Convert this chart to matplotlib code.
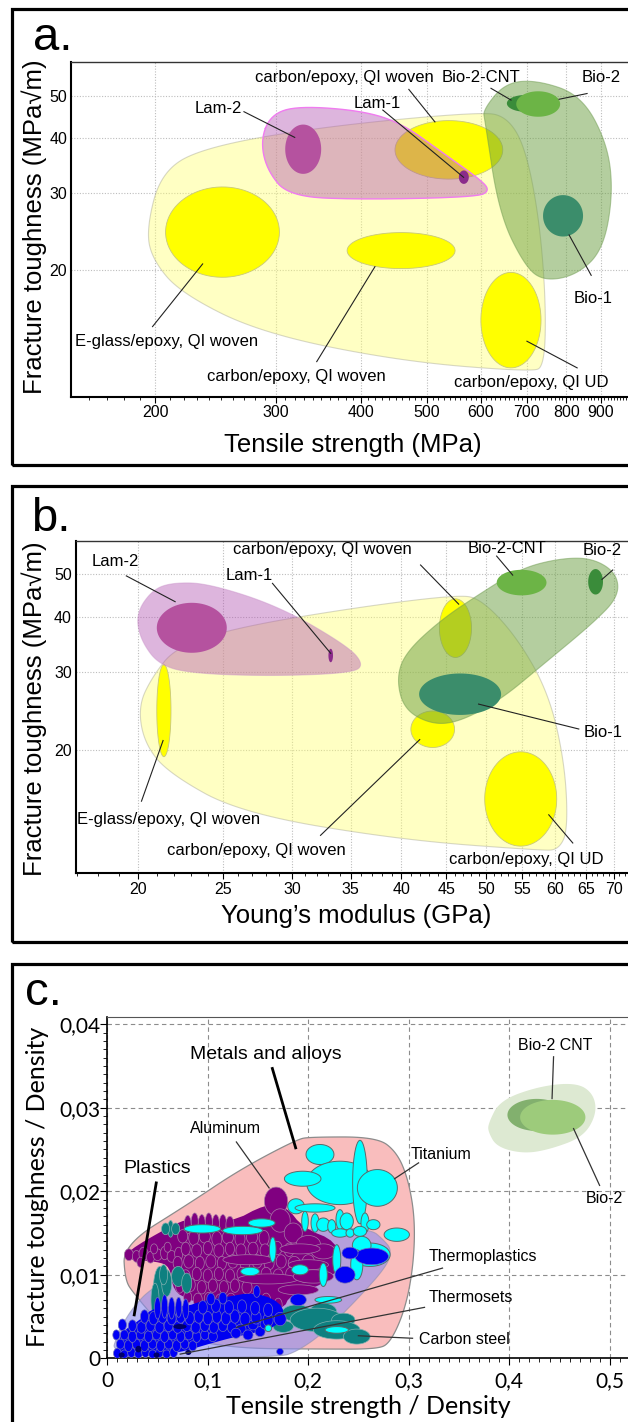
import numpy as np
import matplotlib
matplotlib.use("Agg")
from matplotlib import pyplot as plt
from matplotlib.patches import Rectangle
from matplotlib.ticker import FixedLocator, FixedFormatter, NullLocator, NullFormatter

W, H = 628, 1422
SANS = ['Liberation Sans', 'DejaVu Sans']
NARROW = ['Liberation Sans Narrow', 'Liberation Sans', 'DejaVu Sans']
CALIBRI = ['Lato', 'DejaVu Sans']
plt.rcParams['font.family'] = SANS

### DATA ###

# panel a: tensile strength (MPa) vs fracture toughness (MPa sqrt m)
# ellipses: name, strength lo, hi, toughness lo, hi
A_ELLIPSES = [
    ("E-glass/epoxy, QI woven", 207, 304, 19.3, 31.0),
    ("carbon/epoxy, QI woven 1", 449, 646, 32.3, 43.9),
    ("carbon/epoxy, QI woven 2", 382, 550, 20.2, 24.4),
    ("carbon/epoxy, QI UD", 600, 735, 12.0, 19.8),
]
A_TOP_ELLIPSES = [
    ("Lam-2", 310, 350, 33.2, 43.0),
    ("Lam-1", 557, 576, 31.5, 33.8),
    ("Bio-2-CNT", 655, 740, 46.0, 50.2),
    ("Bio-2", 676, 784, 44.8, 51.2),
    ("Bio-1", 740, 847, 23.9, 29.7),
]
A_YELLOW_ENV = [(194, 24.75), (203.5, 33.3), (233, 38.0), (349.5, 42.5), (600, 46.0),
                (655, 44.8), (696.5, 38.3), (730, 26.5), (747, 17.15), (744, 12.1),
                (710.8, 11.75), (458, 12.42), (285.4, 14.41), (217.8, 17.77), (198.1, 21.15)]
A_PURPLE_ENV = [(285.4, 39.65), (295.2, 45.2), (322.3, 47.4), (400, 46.3), (458, 43.4),
                (524.4, 37.3), (600.2, 32.15), (618.3, 30.4), (592.2, 29.4), (400, 29.0),
                (313.7, 29.5), (291.3, 33.9)]
A_GREEN_ENV = [(604.3, 46.4), (650.9, 53.5), (725.3, 54.3), (841.4, 50.2), (919.2, 39.0),
               (937.6, 30.0), (906.6, 22.3), (830.3, 19.55), (744, 18.9), (696.5, 20.4),
               (637.8, 27.0), (608.2, 43.9)]
A_XTICKS = [200, 300, 400, 500, 600, 700, 800, 900]
A_YTICKS = [20, 30, 40, 50]
# text, text position, leader start, leader end
A_LABELS = [
    ("carbon/epoxy, QI woven", (378.5, 54.9), (470.5, 51.7), (513.8, 43.6)),
    ("Lam-1", (422.3, 48.0), (430.9, 46.4), (566, 32.6)),
    ("Lam-2", (247, 46.8), (269.7, 46.0), (320.1, 40.2)),
    ("Bio-2-CNT", (600.2, 54.9), (620.8, 52.0), (664.2, 48.9)),
    ("Bio-2", (900.4, 54.9), (858.6, 50.6), (781.2, 49.1)),
    ("Bio-1", (876.3, 17.24), (870.6, 19.5), (808, 24.1)),
    ("E-glass/epoxy, QI woven", (207.7, 13.75), (198.1, 14.9), (234.6, 20.7)),
    ("carbon/epoxy, QI woven", (322.3, 11.48), (344.8, 12.4), (419.6, 20.4)),
    ("carbon/epoxy, QI UD", (710.8, 11.09), (830.3, 12.0), (700.9, 13.8)),
]

# panel b: Young's modulus (GPa) vs fracture toughness
B_ELLIPSES = [
    ("E-glass/epoxy, QI woven", 21.0, 21.8, 19.3, 31.2),
    ("carbon/epoxy, QI woven 1", 44.2, 48.1, 32.4, 44.0),
    ("carbon/epoxy, QI woven 2", 41.0, 46.0, 20.25, 24.5),
    ("carbon/epoxy, QI UD", 49.8, 60.2, 12.1, 19.8),
]
B_TOP_ELLIPSES = [
    ("Lam-2", 21.0, 25.25, 33.2, 43.1),
    ("Lam-1", 33.0, 33.4, 31.6, 33.9),
    ("Bio-2-CNT", 51.4, 58.6, 44.8, 51.2),
    ("Bio-2", 65.4, 68.0, 45.0, 51.4),
    ("Bio-1", 41.9, 52.0, 24.0, 29.8),
]
B_PURPLE_ENV = [(19.89, 40.8), (20.75, 46.1), (21.87, 47.9), (24.05, 47.7), (29.08, 42.2),
                (34.79, 34.3), (36.22, 31.2), (35.15, 29.9), (29.08, 29.4), (23.55, 29.7),
                (21.19, 30.9), (20.11, 35.5)]
B_YELLOW_ENV = [(20.0, 25.1), (20.75, 29.3), (22.11, 34.3), (26.17, 38.05), (35.91, 42.2),
                (46.25, 44.9), (49.27, 44.1), (54.17, 36.1), (58.95, 26.9), (61.49, 18.66),
                (62.01, 13.18), (60.51, 11.87), (57.71, 11.83), (39.9, 12.5), (26.17, 14.38),
                (21.65, 17.71), (20.32, 20.71)]
B_GREEN_ENV = [(39.48, 28.8), (40.33, 33.1), (44.35, 39.4), (49.27, 45.3), (54.75, 51.6),
               (60.85, 54.4), (66.19, 54.4), (70.5, 50.3), (70.88, 44.5), (66.19, 38.7),
               (57.71, 30.9), (51.95, 26.0), (46.74, 23.2), (43.42, 22.8), (40.33, 24.6)]
B_XTICKS = [20, 25, 30, 35, 40, 45, 50, 55, 60, 65, 70]
B_YTICKS = [20, 30, 40, 50]
B_LABELS = [
    ("Lam-2", (18.82, 53.6), (19.38, 49.6), (22.04, 43.35)),
    ("Lam-1", (26.82, 49.6), (28.48, 47.7), (33.2, 33.1)),
    ("carbon/epoxy, QI woven", (32.48, 56.8), (42.06, 52.5), (46.5, 42.8)),
    ("Bio-2-CNT", (52.87, 57.3), (51.39, 55.0), (53.61, 49.8)),
    ("Bio-2", (67.82, 56.5), (69.77, 51.15), (67.82, 48.7)),
    ("Bio-1", (67.97, 21.9), (63.8, 22.3), (49.0, 25.4)),
    ("E-glass/epoxy, QI woven", (21.65, 13.9), (20.17, 15.3), (21.35, 21.0)),
    ("carbon/epoxy, QI woven", (27.3, 11.8), (32.32, 12.8), (41.97, 21.1)),
    ("carbon/epoxy, QI UD", (55.62, 11.27), (62.8, 12.3), (58.95, 14.25)),
]

# panel c: specific strength vs specific toughness, (x, y, half range x, half range y)
C_METALS_ENV = [(0.0159, 0.0136), (0.0823, 0.0186), (0.132, 0.0226), (0.1885, 0.0262),
                (0.2017, 0.0265), (0.268, 0.0265), (0.288, 0.0247), (0.2995, 0.0214),
                (0.3062, 0.0166), (0.3045, 0.0110), (0.2962, 0.0058), (0.2813, 0.0018),
                (0.268, 0.0011), (0.2149, 0.0011), (0.12, 0.0012), (0.06, 0.003),
                (0.026, 0.0078), (0.0176, 0.0094)]
C_PLASTICS_ENV = [(0.003, 0.0001), (0.011, 0.0032), (0.0259, 0.0062), (0.0458, 0.0086),
                  (0.1, 0.0118), (0.2, 0.0158), (0.262, 0.0155), (0.2746, 0.0142),
                  (0.283, 0.0130), (0.278, 0.0110), (0.2482, 0.0070), (0.2149, 0.0030),
                  (0.1885, 0.0008), (0.17, 0.0001)]
C_BIO_ENV = [(0.379, 0.0281), (0.3907, 0.0309), (0.4305, 0.0326), (0.467, 0.0330),
             (0.4836, 0.0317), (0.487, 0.0293), (0.4737, 0.0265), (0.44, 0.0250),
             (0.414, 0.0245), (0.3875, 0.0253), (0.379, 0.0271)]
C_PURPLE_HULL = [(0.0193, 0.0128), (0.0624, 0.0158), (0.0823, 0.0168), (0.1221, 0.0162),
                 (0.158, 0.0185), (0.178, 0.0182), (0.195, 0.0156), (0.2283, 0.0140),
                 (0.2320, 0.0110), (0.2149, 0.0088), (0.1818, 0.0076), (0.1751, 0.0058),
                 (0.142, 0.0062), (0.1089, 0.0058), (0.0823, 0.0070), (0.0657, 0.0080),
                 (0.0624, 0.0110), (0.0492, 0.0116), (0.0193, 0.0118)]
C_BLUE_HULL = [(0.008, 0.0002), (0.0126, 0.0030), (0.0325, 0.0046), (0.0475, 0.0062),
               (0.079, 0.0062), (0.0922, 0.0068), (0.1121, 0.0072), (0.1487, 0.0080),
               (0.1785, 0.0062), (0.1686, 0.0036), (0.1353, 0.0028), (0.1089, 0.0020),
               (0.07, 0.0006), (0.03, 0.0002)]
C_TEAL = [
    (0.063, 0.0155, 0.0085, 0.0004), (0.063, 0.0155, 0.0028, 0.0010),
    (0.058, 0.0155, 0.0040, 0.0007), (0.068, 0.0155, 0.0040, 0.0007),
    (0.0524, 0.0082, 0.0066, 0.0028), (0.0475, 0.0070, 0.0040, 0.0020),
    (0.0591, 0.0090, 0.0050, 0.0016), (0.0706, 0.0098, 0.0066, 0.0012),
    (0.0790, 0.0090, 0.0050, 0.0012), (0.0560, 0.0100, 0.0040, 0.0012),
    (0.1885, 0.0054, 0.0150, 0.0010), (0.2149, 0.0056, 0.0133, 0.0010),
    (0.2084, 0.0046, 0.0265, 0.0014), (0.2348, 0.0046, 0.0116, 0.0008),
    (0.1751, 0.0038, 0.0100, 0.0007), (0.2283, 0.0034, 0.0232, 0.0011),
    (0.2482, 0.0026, 0.0133, 0.0009),
]
C_PURPLE = [
    (0.0215, 0.0124, 0.0045, 0.0007), (0.0290, 0.0122, 0.0040, 0.0007), (0.0360, 0.0125, 0.0045, 0.0008),
    (0.0430, 0.0121, 0.0040, 0.0007), (0.0500, 0.0124, 0.0045, 0.0007), (0.0570, 0.0126, 0.0040, 0.0008),
    (0.0640, 0.0122, 0.0045, 0.0007), (0.0710, 0.0125, 0.0040, 0.0008), (0.0330, 0.0115, 0.0035, 0.0006),
    (0.0465, 0.0131, 0.0035, 0.0006), (0.0600, 0.0133, 0.0035, 0.0006),
    (0.0800, 0.0160, 0.0035, 0.0011), (0.0870, 0.0163, 0.0035, 0.0011), (0.0940, 0.0161, 0.0035, 0.0011),
    (0.1010, 0.0163, 0.0035, 0.0011), (0.1080, 0.0161, 0.0035, 0.0011), (0.1150, 0.0162, 0.0035, 0.0010),
    (0.1220, 0.0160, 0.0040, 0.0010),
    (0.0750, 0.0146, 0.0050, 0.0008), (0.0860, 0.0144, 0.0050, 0.0009), (0.0970, 0.0146, 0.0055, 0.0008),
    (0.1090, 0.0143, 0.0050, 0.0009), (0.1200, 0.0145, 0.0055, 0.0008), (0.1320, 0.0143, 0.0050, 0.0009),
    (0.1440, 0.0145, 0.0055, 0.0008), (0.1560, 0.0144, 0.0050, 0.0009),
    (0.1679, 0.0188, 0.0116, 0.0017), (0.1720, 0.0165, 0.0100, 0.0014), (0.1850, 0.0150, 0.0090, 0.0012),
    (0.2000, 0.0137, 0.0120, 0.0010), (0.2150, 0.0128, 0.0120, 0.0009),
    (0.0780, 0.0131, 0.0045, 0.0008), (0.0890, 0.0129, 0.0050, 0.0008), (0.1000, 0.0132, 0.0045, 0.0008),
    (0.1110, 0.0129, 0.0050, 0.0008), (0.1220, 0.0131, 0.0045, 0.0008), (0.1330, 0.0129, 0.0050, 0.0008),
    (0.1450, 0.0131, 0.0050, 0.0008), (0.1570, 0.0129, 0.0050, 0.0008), (0.1690, 0.0132, 0.0050, 0.0008),
    (0.1810, 0.0130, 0.0050, 0.0008),
    (0.0700, 0.0114, 0.0045, 0.0008), (0.0810, 0.0116, 0.0050, 0.0008), (0.0920, 0.0114, 0.0045, 0.0008),
    (0.1030, 0.0116, 0.0050, 0.0008), (0.1140, 0.0114, 0.0045, 0.0008), (0.1250, 0.0116, 0.0050, 0.0008),
    (0.1370, 0.0114, 0.0050, 0.0008), (0.1490, 0.0116, 0.0050, 0.0008), (0.1610, 0.0114, 0.0050, 0.0008),
    (0.1730, 0.0116, 0.0050, 0.0008), (0.1860, 0.0114, 0.0060, 0.0008), (0.2000, 0.0116, 0.0060, 0.0008),
    (0.0680, 0.0100, 0.0040, 0.0008), (0.0780, 0.0098, 0.0045, 0.0008), (0.0890, 0.0101, 0.0045, 0.0008),
    (0.1000, 0.0099, 0.0045, 0.0008), (0.1110, 0.0101, 0.0045, 0.0008), (0.1220, 0.0099, 0.0045, 0.0008),
    (0.1340, 0.0101, 0.0050, 0.0008), (0.1460, 0.0099, 0.0050, 0.0008), (0.1580, 0.0101, 0.0050, 0.0008),
    (0.1700, 0.0099, 0.0050, 0.0008), (0.1830, 0.0101, 0.0055, 0.0008), (0.1960, 0.0099, 0.0055, 0.0008),
    (0.0720, 0.0086, 0.0040, 0.0008), (0.0830, 0.0088, 0.0045, 0.0008), (0.0940, 0.0085, 0.0045, 0.0008),
    (0.1050, 0.0087, 0.0045, 0.0008), (0.1160, 0.0085, 0.0045, 0.0008), (0.1270, 0.0087, 0.0045, 0.0008),
    (0.1390, 0.0085, 0.0050, 0.0008), (0.1600, 0.0095, 0.0300, 0.0006), (0.1900, 0.0082, 0.0200, 0.0006),
    (0.0800, 0.0073, 0.0040, 0.0007), (0.0900, 0.0070, 0.0045, 0.0008), (0.1010, 0.0072, 0.0045, 0.0007),
    (0.1120, 0.0069, 0.0045, 0.0008), (0.1230, 0.0071, 0.0045, 0.0007), (0.1350, 0.0068, 0.0045, 0.0008),
    (0.1460, 0.0071, 0.0045, 0.0007), (0.1580, 0.0070, 0.0045, 0.0008), (0.1700, 0.0064, 0.0040, 0.0008),
    (0.1400, 0.0118, 0.0250, 0.0006), (0.2000, 0.0112, 0.0200, 0.0006),
    (0.2050, 0.0098, 0.0200, 0.0008), (0.1917, 0.0131, 0.0200, 0.0006),
]
C_BLUE = [
    (0.010, 0.0006, 0.0038, 0.0006), (0.017, 0.0005, 0.0038, 0.0005), (0.024, 0.0007, 0.0038, 0.0006),
    (0.031, 0.0005, 0.0038, 0.0005), (0.038, 0.0007, 0.0038, 0.0006), (0.045, 0.0005, 0.0038, 0.0005),
    (0.052, 0.0007, 0.0038, 0.0006), (0.059, 0.0005, 0.0038, 0.0005), (0.066, 0.0007, 0.0038, 0.0006),
    (0.013, 0.0017, 0.0040, 0.0006), (0.021, 0.0015, 0.0040, 0.0007), (0.029, 0.0017, 0.0040, 0.0006),
    (0.037, 0.0015, 0.0040, 0.0007), (0.045, 0.0017, 0.0040, 0.0006), (0.053, 0.0015, 0.0040, 0.0007),
    (0.061, 0.0017, 0.0040, 0.0006), (0.069, 0.0015, 0.0040, 0.0007), (0.077, 0.0017, 0.0040, 0.0006),
    (0.085, 0.0015, 0.0040, 0.0006),
    (0.009, 0.0028, 0.0035, 0.0006), (0.015, 0.0040, 0.0040, 0.0007),
    (0.017, 0.0028, 0.0040, 0.0006), (0.025, 0.0026, 0.0040, 0.0007), (0.033, 0.0028, 0.0040, 0.0006),
    (0.041, 0.0026, 0.0040, 0.0007), (0.049, 0.0028, 0.0040, 0.0006), (0.057, 0.0026, 0.0040, 0.0007),
    (0.065, 0.0028, 0.0040, 0.0006), (0.073, 0.0026, 0.0040, 0.0007), (0.081, 0.0028, 0.0040, 0.0006),
    (0.089, 0.0026, 0.0040, 0.0007), (0.097, 0.0028, 0.0040, 0.0006), (0.105, 0.0026, 0.0045, 0.0006),
    (0.025, 0.0039, 0.0040, 0.0007), (0.034, 0.0037, 0.0045, 0.0007), (0.043, 0.0039, 0.0045, 0.0007),
    (0.052, 0.0037, 0.0045, 0.0007), (0.061, 0.0039, 0.0045, 0.0007), (0.070, 0.0037, 0.0045, 0.0007),
    (0.079, 0.0039, 0.0045, 0.0007), (0.088, 0.0037, 0.0045, 0.0007), (0.097, 0.0039, 0.0045, 0.0007),
    (0.106, 0.0037, 0.0045, 0.0007), (0.115, 0.0039, 0.0045, 0.0007), (0.124, 0.0037, 0.0045, 0.0007),
    (0.133, 0.0035, 0.0050, 0.0006),
    (0.128, 0.0030, 0.0050, 0.0006), (0.140, 0.0028, 0.0050, 0.0006), (0.152, 0.0032, 0.0050, 0.0006),
    (0.145, 0.0040, 0.0050, 0.0006), (0.157, 0.0041, 0.0050, 0.0006),
    (0.037, 0.0050, 0.0040, 0.0008), (0.046, 0.0048, 0.0045, 0.0008), (0.055, 0.0050, 0.0045, 0.0008),
    (0.064, 0.0048, 0.0045, 0.0008), (0.073, 0.0050, 0.0045, 0.0008), (0.082, 0.0048, 0.0045, 0.0008),
    (0.091, 0.0050, 0.0045, 0.0008), (0.100, 0.0048, 0.0045, 0.0008), (0.109, 0.0050, 0.0045, 0.0008),
    (0.118, 0.0048, 0.0045, 0.0008), (0.127, 0.0050, 0.0045, 0.0008), (0.137, 0.0047, 0.0050, 0.0008),
    (0.148, 0.0049, 0.0050, 0.0008), (0.160, 0.0046, 0.0050, 0.0008),
    (0.050, 0.0060, 0.0030, 0.0013), (0.057, 0.0062, 0.0030, 0.0014), (0.064, 0.0060, 0.0030, 0.0013),
    (0.071, 0.0061, 0.0030, 0.0012), (0.078, 0.0059, 0.0030, 0.0012), (0.095, 0.0061, 0.0045, 0.0008),
    (0.108, 0.0063, 0.0045, 0.0008), (0.121, 0.0061, 0.0045, 0.0008), (0.134, 0.0062, 0.0045, 0.0008),
    (0.147, 0.0060, 0.0045, 0.0008), (0.160, 0.0058, 0.0045, 0.0008),
    (0.103, 0.0071, 0.0040, 0.0007), (0.115, 0.0072, 0.0040, 0.0007), (0.1487, 0.0080, 0.0033, 0.0007),
    (0.172, 0.0047, 0.0060, 0.0008), (0.1718, 0.0008, 0.0033, 0.0004), (0.190, 0.0070, 0.0080, 0.0007),
]
C_CYAN = [
    (0.2116, 0.0244, 0.0139, 0.0012), (0.2315, 0.0210, 0.0332, 0.0026), (0.1944, 0.0215, 0.0182, 0.0009),
    (0.2514, 0.0211, 0.0073, 0.0050), (0.2687, 0.0204, 0.0199, 0.0022), (0.1878, 0.0182, 0.0083, 0.0009),
    (0.2067, 0.0180, 0.0199, 0.0005), (0.1967, 0.0164, 0.0033, 0.0012), (0.2067, 0.0162, 0.0040, 0.0011),
    (0.2149, 0.0160, 0.0066, 0.0008), (0.2233, 0.0158, 0.0040, 0.0008), (0.2315, 0.0166, 0.0040, 0.0012),
    (0.2382, 0.0164, 0.0066, 0.0010), (0.2564, 0.0162, 0.0040, 0.0012), (0.2647, 0.0160, 0.0066, 0.0006),
    (0.2315, 0.0150, 0.0083, 0.0005), (0.2415, 0.0150, 0.0040, 0.0005), (0.2514, 0.0152, 0.0066, 0.0006),
    (0.2880, 0.0148, 0.0126, 0.0008), (0.2614, 0.0124, 0.0200, 0.0014), (0.2531, 0.0135, 0.0093, 0.0011),
    (0.2482, 0.0112, 0.0060, 0.0018), (0.2283, 0.0118, 0.0040, 0.0018), (0.2149, 0.0100, 0.0040, 0.0014),
    (0.1917, 0.0106, 0.0083, 0.0006), (0.2199, 0.0070, 0.0133, 0.0004), (0.0945, 0.0155, 0.0182, 0.0005),
    (0.1347, 0.0153, 0.0199, 0.0005), (0.1536, 0.0162, 0.0133, 0.0005), (0.1646, 0.0130, 0.0033, 0.0015),
    (0.1420, 0.0104, 0.0093, 0.0005), (0.1602, 0.0036, 0.0033, 0.0004), (0.2283, 0.0034, 0.0116, 0.0004),
]
C_BLUE_FRONT = [(0.2631, 0.0122, 0.0166, 0.0010), (0.2365, 0.0100, 0.0100, 0.0010),
                (0.2415, 0.0126, 0.0080, 0.0007)]
C_NAVY = [(0.0723, 0.0038, 0.0066, 0.0003), (0.049, 0.0004, 0.003, 0.0003),
          (0.0143, 0.0004, 0.003, 0.0003), (0.0806, 0.0007, 0.003, 0.0003),
          (0.031, 0.0011, 0.003, 0.0004)]
C_BIO = [("Bio-2 CNT", 0.4273, 0.02914, 0.0292, 0.00192),
         ("Bio-2", 0.4432, 0.02886, 0.0325, 0.00208)]
C_XTICKS = [0, 0.1, 0.2, 0.3, 0.4, 0.5]
C_XTICKLABELS = ["0", "0,1", "0,2", "0,3", "0,4", "0,5"]
C_YTICKS = [0, 0.01, 0.02, 0.03, 0.04]
C_YTICKLABELS = ["0", "0,01", "0,02", "0,03", "0,04"]
C_LABELS = [
    ("Bio-2 CNT", (0.4452, 0.0375), (0.444, 0.0361), (0.4425, 0.0311), False),
    ("Bio-2", (0.4949, 0.0191), (0.4898, 0.0207), (0.4639, 0.0275), False),
    ("Metals and alloys", (0.1582, 0.0364), (0.1642, 0.0347), (0.1874, 0.0252), True),
    ("Aluminum", (0.1176, 0.0275), (0.1284, 0.0259), (0.1610, 0.0204), False),
    ("Titanium", (0.3316, 0.0244), (0.3097, 0.0234), (0.2858, 0.0215), False),
    ("Plastics", (0.0498, 0.0227), (0.0487, 0.0210), (0.0268, 0.0052), True),
    ("Thermoplastics", (0.3734, 0.0122), (0.3335, 0.0108), (0.1284, 0.0037), False),
    ("Thermosets", (0.3615, 0.0073), (0.3156, 0.0061), (0.0725, 0.0005), False),
    ("Carbon steel", (0.3555, 0.0022), (0.3037, 0.0024), (0.2498, 0.0027), False),
]


### HELPERS ###

def fig_box(left, top, right, bottom):
    return [left / W, 1 - bottom / H, (right - left) / W, (bottom - top) / H]


def chaikin(pts, log=False, n_iter=4):
    p = np.array(pts, dtype=float)
    if log:
        p = np.log(p)
    for _ in range(n_iter):
        q = np.roll(p, -1, axis=0)
        p = np.stack([0.75 * p + 0.25 * q, 0.25 * p + 0.75 * q], axis=1).reshape(-1, 2)
    if log:
        p = np.exp(p)
    return p[:, 0], p[:, 1]


T = np.linspace(0, 2 * np.pi, 80)


def range_ellipse(ax, xlo, xhi, ylo, yhi, **kw):
    # ellipse spanning the property ranges, symmetric on log axes
    cx, hx = (np.log(xlo) + np.log(xhi)) / 2, (np.log(xhi) - np.log(xlo)) / 2
    cy, hy = (np.log(ylo) + np.log(yhi)) / 2, (np.log(yhi) - np.log(ylo)) / 2
    ax.fill(np.exp(cx + hx * np.cos(T)), np.exp(cy + hy * np.sin(T)), **kw)


def lin_ellipse(ax, x, y, dx, dy, **kw):
    ax.fill(x + dx * np.cos(T), y + dy * np.sin(T), **kw)


def style_log_axes(ax, xticks, yticks, xminor, xlim, ylim):
    ax.set_xscale('log')
    ax.set_yscale('log')
    ax.set_xlim(*xlim)
    ax.set_ylim(*ylim)
    ax.xaxis.set_major_locator(FixedLocator(xticks))
    ax.xaxis.set_major_formatter(FixedFormatter([str(t) for t in xticks]))
    ax.xaxis.set_minor_locator(FixedLocator(xminor))
    ax.xaxis.set_minor_formatter(NullFormatter())
    ax.yaxis.set_major_locator(FixedLocator(yticks))
    ax.yaxis.set_major_formatter(FixedFormatter([str(t) for t in yticks]))
    ax.yaxis.set_minor_locator(NullLocator())
    ax.tick_params(axis='x', which='major', length=4, width=0.8, pad=2, labelsize=11.5)
    ax.tick_params(axis='x', which='minor', length=2.5, width=0.6)
    ax.tick_params(axis='y', which='major', length=0, pad=3, labelsize=11.5)
    ax.grid(True, which='major', ls=(0, (1, 1.5)), color='#BDBDBD', lw=0.8)
    ax.set_axisbelow(True)
    for side in ['left', 'bottom']:
        ax.spines[side].set_linewidth(1.5)
    for side in ['top', 'right']:
        ax.spines[side].set_linewidth(1.0)
        ax.spines[side].set_color('#333333')


def leaders(ax, labels, fs=12, family=SANS):
    for text, tpos, start, end in labels:
        ax.plot([start[0], end[0]], [start[1], end[1]], color='#222222', lw=0.8, zorder=8)
        ax.text(tpos[0], tpos[1], text, ha='center', va='center', fontsize=fs,
                family=family, zorder=9)


fig = plt.figure(figsize=(W / 100, H / 100), dpi=100)

# panel frames
for top, bottom in [(9, 464.5), (486, 942), (964, 1450)]:
    fig.add_artist(Rectangle((11.5 / W, 1 - bottom / H), (660 - 11.5) / W, (bottom - top) / H,
                             transform=fig.transFigure, fill=False, lw=2.3, ec='black'))

TOP_COLORS = {"Lam-2": '#B5529F', "Lam-1": '#8B2B8B', "Bio-1": '#3B8D6B'}

### PANEL A ###
ax = fig.add_axes(fig_box(71.3, 62, 640, 397))
style_log_axes(ax, A_XTICKS, A_YTICKS, list(range(160, 1030, 10)), (150.6, 1026.5), (10.3, 59.7))
x, y = chaikin(A_YELLOW_ENV, log=True)
ax.fill(x, y, fc='#FFFF70', alpha=0.42, ec='#A0A090', lw=0.8, zorder=1)
for name, xlo, xhi, ylo, yhi in A_ELLIPSES:
    range_ellipse(ax, xlo, xhi, ylo, yhi, fc='#FFFF00', ec='#C8C878', lw=0.6, zorder=2)
x, y = chaikin(A_PURPLE_ENV, log=True)
ax.fill(x, y, fc='#B050B0', alpha=0.42, ec='none', zorder=3)
ax.plot(np.append(x, x[0]), np.append(y, y[0]), color='#F07CF0', lw=1.0, zorder=3)
x, y = chaikin(A_GREEN_ENV, log=True)
ax.fill(x, y, fc='#6A9F40', alpha=0.5, ec='#6E9A50', lw=0.8, zorder=3)
a_colors = dict(TOP_COLORS, **{"Bio-2-CNT": '#3A8C3A', "Bio-2": '#6CB446'})
for name, xlo, xhi, ylo, yhi in A_TOP_ELLIPSES:
    range_ellipse(ax, xlo, xhi, ylo, yhi, fc=a_colors[name], ec='none', zorder=4)
leaders(ax, A_LABELS)

fig.text(33 / W, 1 - 50 / H, 'a.', fontsize=34, va='baseline', ha='left')
fig.text(353 / W, 1 - 445 / H, 'Tensile strength (MPa)', fontsize=18.5, ha='center', va='center')
fig.text(34 / W, 1 - 227 / H, 'Fracture toughness (MPa√m)', fontsize=18.5, ha='center',
         va='center', rotation=90)

### PANEL B ###
ax = fig.add_axes(fig_box(76.1, 540.7, 640, 873.3))
style_log_axes(ax, B_XTICKS, B_YTICKS, list(range(17, 75)), (16.98, 74.96), (10.5, 59.6))
x, y = chaikin(B_YELLOW_ENV, log=True)
ax.fill(x, y, fc='#FFFF70', alpha=0.42, ec='#A0A090', lw=0.8, zorder=1)
for name, xlo, xhi, ylo, yhi in B_ELLIPSES:
    range_ellipse(ax, xlo, xhi, ylo, yhi, fc='#FFFF00', ec='#C8C878', lw=0.6, zorder=2)
x, y = chaikin(B_PURPLE_ENV, log=True)
ax.fill(x, y, fc='#B050B0', alpha=0.42, ec='#C890C8', lw=0.8, zorder=3)
x, y = chaikin(B_GREEN_ENV, log=True)
ax.fill(x, y, fc='#6A9F40', alpha=0.5, ec='#6E9A50', lw=0.8, zorder=3)
b_colors = dict(TOP_COLORS, **{"Bio-2-CNT": '#6CB446', "Bio-2": '#3A8C3A'})
for name, xlo, xhi, ylo, yhi in B_TOP_ELLIPSES:
    range_ellipse(ax, xlo, xhi, ylo, yhi, fc=b_colors[name], ec='none', zorder=4)
leaders(ax, B_LABELS)

fig.text(31 / W, 1 - 531 / H, 'b.', fontsize=34, va='baseline', ha='left')
fig.text(356 / W, 1 - 916 / H, 'Young\u2019s modulus (GPa)', fontsize=18.5, ha='center', va='center')
fig.text(34 / W, 1 - 709 / H, 'Fracture toughness (MPa√m)', fontsize=18.5, ha='center',
         va='center', rotation=90)

### PANEL C ###
ax = fig.add_axes(fig_box(107.3, 1016.7, 640, 1358.3))
ax.set_xlim(0, 0.530)
ax.set_ylim(0, 0.0409)
ax.xaxis.set_major_locator(FixedLocator(C_XTICKS))
ax.xaxis.set_major_formatter(FixedFormatter(C_XTICKLABELS))
ax.xaxis.set_minor_locator(FixedLocator([i / 100 for i in range(0, 53)]))
ax.yaxis.set_major_locator(FixedLocator(C_YTICKS))
ax.yaxis.set_major_formatter(FixedFormatter(C_YTICKLABELS))
ax.yaxis.set_minor_locator(FixedLocator([i / 1000 for i in range(0, 41)]))
ax.tick_params(which='major', length=5, width=0.8, labelsize=15)
ax.tick_params(which='minor', length=3, width=0.6)
ax.tick_params(axis='x', pad=4)
ax.tick_params(axis='y', pad=0)
for lab in ax.get_xticklabels() + ax.get_yticklabels():
    lab.set_family(CALIBRI)
ax.grid(True, which='major', ls=(0, (4, 3)), color='#8C8C8C', lw=0.8)
ax.set_axisbelow(True)
ax.spines['left'].set_linewidth(1.2)
ax.spines['bottom'].set_linewidth(1.2)
ax.spines['top'].set_color('#555555')

x, y = chaikin(C_METALS_ENV)
ax.fill(x, y, fc='#F9BDBD', ec='#8C8C8C', lw=0.9, zorder=1)
x, y = chaikin(C_PLASTICS_ENV)
ax.fill(x, y, fc='#8E8EEE', alpha=0.62, ec='#9090B0', lw=0.8, zorder=2)
x, y = chaikin(C_PURPLE_HULL, n_iter=2)
ax.fill(x, y, fc='#800080', ec='none', zorder=3)
for e in C_PURPLE:
    lin_ellipse(ax, *e, fc='#800080', ec='#A77CA7', lw=0.5, zorder=3)
for e in C_TEAL:
    lin_ellipse(ax, *e, fc='#0E8080', ec='#7FB0B0', lw=0.5, zorder=3)
x, y = chaikin(C_BLUE_HULL, n_iter=2)
ax.fill(x, y, fc='#0000F0', ec='none', zorder=4)
for e in C_BLUE:
    lin_ellipse(ax, *e, fc='#0000F5', ec='#6F6FB8', lw=0.5, zorder=4)
for e in C_CYAN:
    lin_ellipse(ax, *e, fc='#00FFFF', ec='#5A6A6A', lw=0.7, zorder=5)
for e in C_BLUE_FRONT:
    lin_ellipse(ax, *e, fc='#0000F5', ec='#6F6FB8', lw=0.5, zorder=5)
for e in C_NAVY:
    lin_ellipse(ax, *e, fc='#00006A', ec='none', zorder=5)

x, y = chaikin(C_BIO_ENV)
ax.fill(x, y, fc='#DDE9D2', ec='none', zorder=2)
lin_ellipse(ax, *C_BIO[0][1:], fc='#82B06E', ec='none', zorder=3)
lin_ellipse(ax, *C_BIO[1][1:], fc='#9DCB7B', ec='none', zorder=3)

for text, tpos, start, end, strong in C_LABELS:
    ax.plot([start[0], end[0]], [start[1], end[1]], color='black' if strong else '#333333',
            lw=2.0 if strong else 0.9, zorder=8)
    ax.text(tpos[0], tpos[1], text, ha='center', va='center', fontsize=14 if strong else 11.5,
            family=NARROW, zorder=9)

fig.text(25 / W, 1 - 1005 / H, 'c.', fontsize=34, va='baseline', ha='left')
fig.text(368 / W, 1 - 1406 / H, 'Tensile strength / Density', fontsize=18, ha='center',
         va='center', family=CALIBRI)
fig.text(38 / W, 1 - 1187 / H, 'Fracture toughness / Density', fontsize=18, ha='center',
         va='center', rotation=90, family=CALIBRI)

fig.savefig('out.png', dpi=100)
